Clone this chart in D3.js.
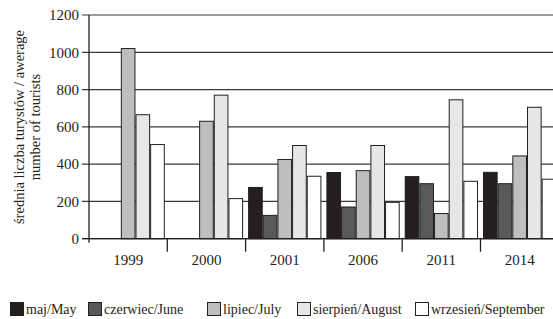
<!DOCTYPE html>
<html>
<head>
<meta charset="utf-8">
<script src="https://cdn.jsdelivr.net/npm/d3@7"></script>
<style>
  html, body { margin: 0; padding: 0; background: #fff; overflow: hidden; }
</style>
</head>
<body>
<div id="chart"></div>
<script>
// data
const years = ['1999', '2000', '2001', '2006', '2011', '2014'];
const months = ['maj/May', 'czerwiec/June', 'lipiec/July', 'sierpień/August', 'wrzesień/September'];
const maj = [null, null, 275, 355, 333, 356];
const czerwiec = [null, null, 125, 170, 295, 295];
const lipiec = [1020, 630, 425, 365, 135, 444];
const sierpien = [665, 770, 500, 500, 745, 705];
const wrzesien = [505, 215, 335, 195, 308, 319];
const yTicks = [0, 200, 400, 600, 800, 1000, 1200];

const series = [maj, czerwiec, lipiec, sierpien, wrzesien];
const fills = ['#231f20', '#58595b', '#bcbec0', '#e6e7e8', '#ffffff'];
const legendX = [10, 88, 207, 297, 415];

const width = 553, height = 319;
const plotLeft = 89, plotTop = 15, plotBottom = 238.7, bandW = 78.3;

const svg = d3.select('#chart').append('svg')
  .attr('width', width)
  .attr('height', height)
  .attr('font-family', "'Liberation Serif', 'Times New Roman', Tinos, 'DejaVu Serif', serif")
  .style('font-family', "'Liberation Serif', 'Times New Roman', Tinos, 'DejaVu Serif', serif");

const x0 = d3.scaleBand().domain(years).range([plotLeft, plotLeft + bandW * years.length]).padding(0);
const x1 = d3.scaleBand().domain(months).range([3, bandW - 3]).paddingInner(0.07);
const y = d3.scaleLinear().domain([0, 1200]).range([plotBottom, plotTop]);

// gridlines (also act as y ticks, starting left of the axis)
svg.append('g').selectAll('line')
  .data(yTicks)
  .enter().append('line')
  .attr('x1', plotLeft - 7)
  .attr('x2', width)
  .attr('y1', d => y(d))
  .attr('y2', d => y(d))
  .attr('stroke', '#3a3a3c')
  .attr('stroke-width', 1.2);

svg.append('g').selectAll('text')
  .data(yTicks)
  .enter().append('text')
  .attr('x', 79)
  .attr('y', d => y(d))
  .attr('dy', '0.35em')
  .attr('text-anchor', 'end')
  .attr('font-size', '15px')
  .attr('fill', '#231f20')
  .text(d => d);

// bars
const rows = [];
years.forEach((yr, i) => {
  months.forEach((m, j) => {
    if (series[j][i] != null) rows.push({ year: yr, month: m, value: series[j][i], k: j });
  });
});

svg.append('g').selectAll('rect')
  .data(rows)
  .enter().append('rect')
  .attr('x', d => x0(d.year) + x1(d.month))
  .attr('y', d => y(d.value))
  .attr('width', x1.bandwidth())
  .attr('height', d => plotBottom - y(d.value))
  .attr('fill', d => fills[d.k])
  .attr('stroke', '#231f20')
  .attr('stroke-width', 1);

// axes
svg.append('line')
  .attr('x1', plotLeft).attr('x2', plotLeft)
  .attr('y1', plotTop).attr('y2', plotBottom + 4)
  .attr('stroke', '#231f20').attr('stroke-width', 1.3);

svg.append('line')
  .attr('x1', plotLeft - 7).attr('x2', width)
  .attr('y1', plotBottom).attr('y2', plotBottom)
  .attr('stroke', '#231f20').attr('stroke-width', 1.3);

// category separators below the axis
svg.append('g').selectAll('line')
  .data(years.slice(1))
  .enter().append('line')
  .attr('x1', d => x0(d)).attr('x2', d => x0(d))
  .attr('y1', plotBottom).attr('y2', plotBottom + 13)
  .attr('stroke', '#231f20').attr('stroke-width', 1.3);

svg.append('g').selectAll('text')
  .data(years)
  .enter().append('text')
  .attr('x', d => x0(d) + bandW / 2)
  .attr('y', 265)
  .attr('text-anchor', 'middle')
  .attr('font-size', '15px')
  .attr('fill', '#231f20')
  .text(d => d);

// y axis title
const title = svg.append('text')
  .attr('transform', 'translate(24, 127) rotate(-90)')
  .attr('text-anchor', 'middle')
  .attr('font-size', '14.5px')
  .attr('fill', '#231f20');
title.append('tspan').attr('x', 0).attr('y', 0).text('średnia liczba turystów / awerage');
title.append('tspan').attr('x', 0).attr('y', 16).text('number of tourists');

// legend
const legend = svg.append('g').selectAll('g')
  .data(months)
  .enter().append('g')
  .attr('transform', (d, i) => `translate(${legendX[i]}, 302)`);

legend.append('rect')
  .attr('x', 0.5).attr('y', 0.5)
  .attr('width', 13).attr('height', 13)
  .attr('fill', (d, i) => fills[i])
  .attr('stroke', '#231f20')
  .attr('stroke-width', 1);

legend.append('text')
  .attr('x', 16)
  .attr('y', 11.5)
  .attr('font-size', '14px')
  .attr('fill', '#231f20')
  .text(d => d);
</script>
</body>
</html>
